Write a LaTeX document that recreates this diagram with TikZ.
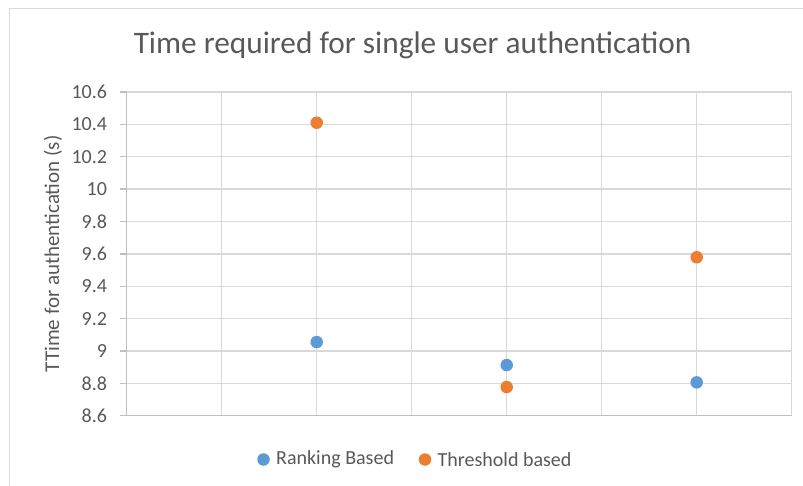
\documentclass[tikz,border=0pt]{standalone}
\usepackage{fontspec}
\setmainfont{Carlito}
\definecolor{rankblue}{HTML}{5B9BD5}
\definecolor{threshorange}{HTML}{ED7D31}
\definecolor{gridgray}{HTML}{D9D9D9}
\definecolor{axisgray}{HTML}{BFBFBF}
\definecolor{labelgray}{HTML}{595959}
\tikzset{
  gridline/.style={draw=gridgray, line width=1.3pt},
  axisline/.style={draw=axisgray, line width=1.3pt},
  ticklabel/.style={text=labelgray, font=\fontsize{20}{24}\selectfont, anchor=east, inner sep=0pt},
  dot/.style={circle, inner sep=0pt, minimum size=12.5pt},
  bluedot/.style={dot, fill=rankblue},
  orangedot/.style={dot, fill=threshorange},
  legendtext/.style={text=labelgray, font=\fontsize{20}{24}\selectfont, anchor=west, inner sep=0pt},
}
\begin{document}
\begin{tikzpicture}[x=1pt,y=-1pt]
\useasboundingbox (0,0) rectangle (803,486);
\fill[white] (0,0) rectangle (803,486);
% chart frame (top and left edges)
\draw[gridline] (9.5,486) -- (9.5,8.5) -- (803,8.5);
% title
\node (title) at (412.5,45) {\fontsize{31.3}{36}\selectfont\color{labelgray}Time required for single user authentication};
% axis title
\node[rotate=90, text=labelgray, font=\fontsize{21}{25}\selectfont] (ylabel) at (53,254) {TTime for authentication (s)};
% plot area: x in category steps, y in seconds above 8.6
\begin{scope}[shift={(126.7,415.7)}, x=95pt, y=161.85pt]
  \foreach \j in {1,...,10} \draw[gridline] (0,\j*0.2) -- (7,\j*0.2);
  \foreach \i in {1,...,7} \draw[gridline] (\i,0) -- (\i,2);
  \draw[axisline] (0,0) -- (7,0);
  \draw[axisline] (0,0) -- (0,2);
  \foreach \j/\lab in {0/8.6,1/8.8,2/9,3/9.2,4/9.4,5/9.6,6/9.8,7/10,8/10.2,9/10.4,10/10.6} {
    \draw[axisline] (-7pt,\j*0.2) -- (0,\j*0.2);
    \node[ticklabel] (yt\j) at ([xshift=-19.5pt]0,\j*0.2) {\lab};
  }
  % Ranking based
  \node[bluedot] (r1) at (2,9.055-8.6) {};
  \node[bluedot] (r2) at (4,8.913-8.6) {};
  \node[bluedot] (r3) at (6,8.806-8.6) {};
  % Threshold based
  \node[orangedot] (t1) at (2,10.41-8.6) {};
  \node[orangedot] (t2) at (4,8.777-8.6) {};
  \node[orangedot] (t3) at (6,9.579-8.6) {};
\end{scope}
% legend
\node[bluedot] (lgr) at (263.5,459.5) {};
\node[legendtext] (lgrt) at (276,459.5) {Ranking Based};
\node[orangedot] (lgt) at (425,459.5) {};
\node[legendtext] (lgtt) at (437.5,459.5) {Threshold based};
\end{tikzpicture}
\end{document}
